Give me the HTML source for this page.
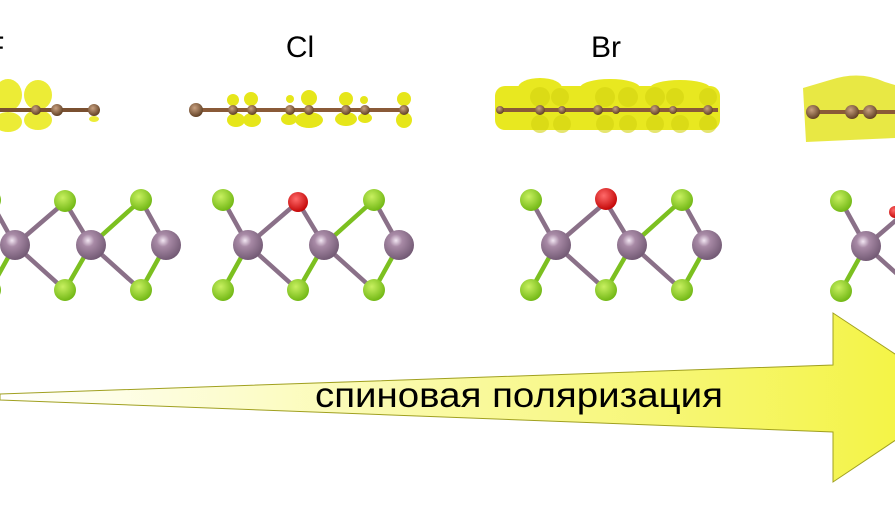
<!DOCTYPE html>
<html><head><meta charset="utf-8"><style>
html,body{margin:0;padding:0;background:#fff;width:895px;height:505px;overflow:hidden}
</style></head><body>
<svg width="895" height="505" viewBox="0 0 895 505" xmlns="http://www.w3.org/2000/svg">
<defs>
<linearGradient id="ag" x1="0" x2="1" y1="0" y2="0">
<stop offset="0" stop-color="#ffffff"/><stop offset="0.35" stop-color="#fbfbb8"/><stop offset="1" stop-color="#f3f33a"/>
</linearGradient>
<radialGradient id="gg" cx="0.4" cy="0.35" r="0.7"><stop offset="0" stop-color="#c8f060"/><stop offset="1" stop-color="#6cb410"/></radialGradient>
<radialGradient id="pg" cx="0.4" cy="0.35" r="0.7"><stop offset="0" stop-color="#f2e6f2"/><stop offset="0.3" stop-color="#a88aa6"/><stop offset="1" stop-color="#6e5670"/></radialGradient>
<radialGradient id="rg" cx="0.4" cy="0.35" r="0.7"><stop offset="0" stop-color="#ff6a6a"/><stop offset="1" stop-color="#c00000"/></radialGradient>
<radialGradient id="bg" cx="0.4" cy="0.35" r="0.7"><stop offset="0" stop-color="#c8a080"/><stop offset="1" stop-color="#5a3a1e"/></radialGradient>
<g id="mol">
 <g stroke-width="4.5" stroke-linecap="round">
  <line x1="0" y1="200" x2="25" y2="245" stroke="#8a7088"/>
  <line x1="25" y1="245" x2="75" y2="202" stroke="#8a7088"/>
  <line x1="75" y1="202" x2="101" y2="245" stroke="#8a7088"/>
  <line x1="101" y1="245" x2="151" y2="200" stroke="#7cc020"/>
  <line x1="151" y1="200" x2="176" y2="245" stroke="#8a7088"/>
  <line x1="25" y1="245" x2="0" y2="290" stroke="#7cc020"/>
  <line x1="25" y1="245" x2="75" y2="290" stroke="#8a7088"/>
  <line x1="75" y1="290" x2="101" y2="245" stroke="#7cc020"/>
  <line x1="101" y1="245" x2="151" y2="290" stroke="#8a7088"/>
  <line x1="151" y1="290" x2="176" y2="245" stroke="#7cc020"/>
 </g>
 <circle cx="0" cy="200" r="11" fill="url(#gg)"/>
 <circle cx="151" cy="200" r="11" fill="url(#gg)"/>
 <circle cx="0" cy="290" r="11" fill="url(#gg)"/>
 <circle cx="75" cy="290" r="11" fill="url(#gg)"/>
 <circle cx="151" cy="290" r="11" fill="url(#gg)"/>
 <circle cx="25" cy="245" r="15" fill="url(#pg)"/>
 <circle cx="101" cy="245" r="15" fill="url(#pg)"/>
 <circle cx="176" cy="245" r="15" fill="url(#pg)"/>
</g>
</defs>

<!-- Arrow -->
<polygon points="0,394 833,365 833,313 960,397 833,482 833,432 0,400" fill="url(#ag)" stroke="#a0a020" stroke-width="1"/>
<text x="315" y="407" textLength="408" lengthAdjust="spacingAndGlyphs" font-family="'Liberation Sans',sans-serif" font-size="35" fill="#000">спиновая поляризация</text>

<!-- Labels -->
<text x="300" y="57" font-family="'Liberation Sans',sans-serif" font-size="30" text-anchor="middle">Cl</text>
<text x="606" y="57" font-family="'Liberation Sans',sans-serif" font-size="30" text-anchor="middle">Br</text>
<text x="-14" y="57" font-family="'Liberation Sans',sans-serif" font-size="30">F</text>

<!-- Top row: left -->
<g fill="#eaea20" fill-opacity="0.9">
<ellipse cx="8" cy="95" rx="14" ry="16"/><ellipse cx="38" cy="95" rx="14" ry="15"/>
<ellipse cx="8" cy="122" rx="14" ry="10"/><ellipse cx="38" cy="120" rx="14" ry="10"/>
<ellipse cx="94" cy="119" rx="5" ry="3"/>
</g>
<line x1="0" y1="110" x2="95" y2="110" stroke="#7a5030" stroke-width="4"/>
<circle cx="36" cy="110" r="5" fill="url(#bg)"/><circle cx="57" cy="110" r="6" fill="url(#bg)"/><circle cx="94" cy="110" r="6" fill="url(#bg)"/>

<!-- Top row: Cl -->
<g fill="#e6e61a">
<ellipse cx="233" cy="100" rx="6" ry="6"/><ellipse cx="251" cy="99" rx="7" ry="7"/>
<ellipse cx="290" cy="99" rx="4" ry="4"/><ellipse cx="309" cy="98" rx="8" ry="8"/>
<ellipse cx="346" cy="99" rx="7" ry="7"/><ellipse cx="364" cy="100" rx="4" ry="4"/>
<ellipse cx="404" cy="99" rx="7" ry="7"/>
<ellipse cx="236" cy="120" rx="9" ry="7"/><ellipse cx="252" cy="120" rx="9" ry="7"/>
<ellipse cx="289" cy="119" rx="8" ry="6"/><ellipse cx="309" cy="120" rx="14" ry="8"/>
<ellipse cx="346" cy="119" rx="11" ry="7"/><ellipse cx="365" cy="118" rx="7" ry="5"/>
<ellipse cx="404" cy="120" rx="8" ry="8"/>
</g>
<line x1="196" y1="110" x2="406" y2="110" stroke="#8a5a38" stroke-width="4"/>
<circle cx="196" cy="110" r="7" fill="url(#bg)"/>
<circle cx="233" cy="110" r="5" fill="url(#bg)"/><circle cx="252" cy="110" r="5" fill="url(#bg)"/>
<circle cx="290" cy="110" r="5" fill="url(#bg)"/><circle cx="309" cy="110" r="5" fill="url(#bg)"/>
<circle cx="346" cy="110" r="5" fill="url(#bg)"/><circle cx="365" cy="110" r="5" fill="url(#bg)"/>
<circle cx="404" cy="110" r="5" fill="url(#bg)"/>

<!-- Top row: Br -->
<g fill="#e8e820">
<rect x="495" y="86" width="225" height="44" rx="10"/>
<ellipse cx="540" cy="88" rx="22" ry="10"/><ellipse cx="610" cy="88" rx="30" ry="9"/><ellipse cx="680" cy="88" rx="30" ry="8"/>
</g>
<g fill="#d4d410" opacity="0.6">
<circle cx="540" cy="97" r="10"/><circle cx="560" cy="97" r="9"/><circle cx="605" cy="97" r="10"/><circle cx="628" cy="97" r="10"/><circle cx="655" cy="97" r="10"/><circle cx="675" cy="97" r="9"/><circle cx="708" cy="97" r="9"/>
<circle cx="540" cy="124" r="9"/><circle cx="562" cy="124" r="9"/><circle cx="605" cy="124" r="9"/><circle cx="628" cy="124" r="9"/><circle cx="655" cy="124" r="9"/><circle cx="680" cy="124" r="9"/><circle cx="708" cy="124" r="9"/>
</g>
<line x1="497" y1="110" x2="718" y2="110" stroke="#8a5a38" stroke-width="4"/>
<circle cx="500" cy="110" r="4" fill="url(#bg)"/><circle cx="540" cy="110" r="5" fill="url(#bg)"/><circle cx="562" cy="110" r="4" fill="url(#bg)"/>
<circle cx="598" cy="110" r="5" fill="url(#bg)"/><circle cx="616" cy="110" r="4" fill="url(#bg)"/>
<circle cx="655" cy="110" r="5" fill="url(#bg)"/><circle cx="673" cy="110" r="4" fill="url(#bg)"/><circle cx="708" cy="110" r="5" fill="url(#bg)"/>

<!-- Top row: right -->
<g fill="#e6e630" opacity="0.9">
<path d="M803,88 L830,80 Q860,70 885,82 L895,85 L895,138 L850,140 L806,142 Z"/>
</g>
<line x1="810" y1="112" x2="895" y2="112" stroke="#8a5a38" stroke-width="4"/>
<circle cx="813" cy="112" r="7" fill="url(#bg)"/><circle cx="852" cy="112" r="7" fill="url(#bg)"/><circle cx="870" cy="112" r="7" fill="url(#bg)"/>

<!-- Bottom molecules -->
<use href="#mol" transform="translate(-10,0)"/>
<circle cx="65" cy="201" r="11" fill="url(#gg)"/>
<use href="#mol" transform="translate(223,0)"/>
<circle cx="298" cy="202" r="10" fill="url(#rg)"/>
<use href="#mol" transform="translate(531,0)"/>
<circle cx="606" cy="199" r="11" fill="url(#rg)"/>
<use href="#mol" transform="translate(841,1)"/>
<circle cx="895" cy="212" r="6" fill="url(#rg)"/>
</svg>
</body></html>
